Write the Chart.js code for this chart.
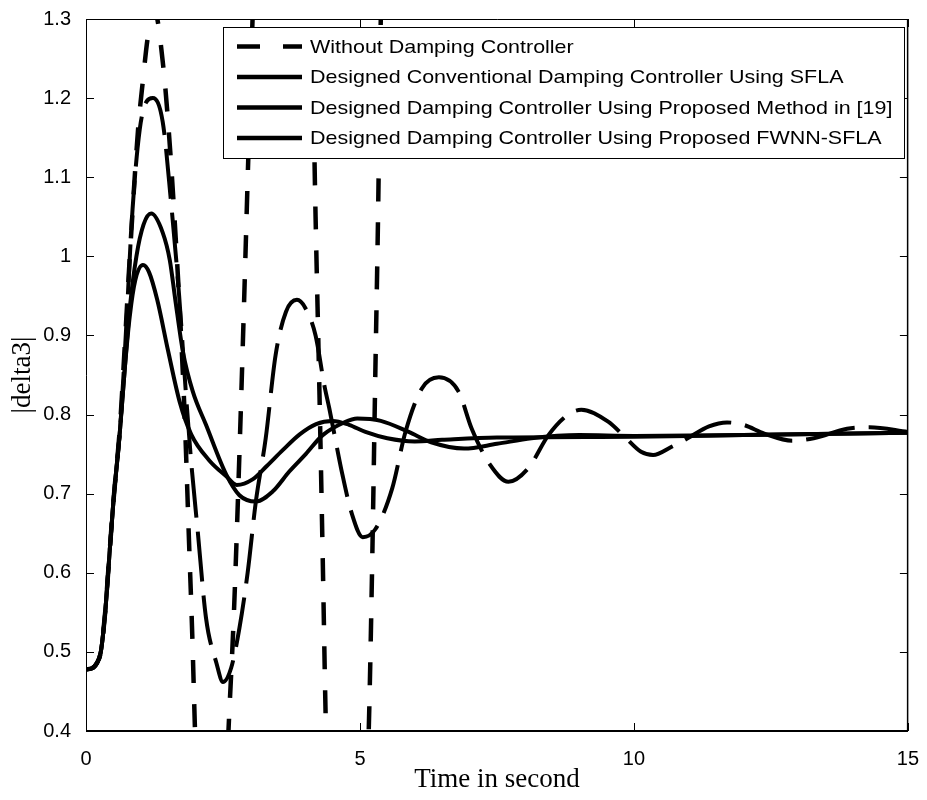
<!DOCTYPE html>
<html>
<head>
<meta charset="utf-8">
<title>|delta3| response</title>
<script src="https://cdn.jsdelivr.net/npm/chart.js@4.4.1/dist/chart.umd.min.js"></script>
<style>
  html, body { margin: 0; padding: 0; background: #fff; }
  #wrap { width: 927px; height: 800px; }
</style>
</head>
<body>
<div id="wrap"><canvas id="chart" width="927" height="800"></canvas></div>
<script>
// axis ticks
const xTicks = [0, 5, 10, 15];
const yTicks = [0.4, 0.5, 0.6, 0.7, 0.8, 0.9, 1.0, 1.1, 1.2, 1.3];

const seriesNames = [
    "Without Damping Controller",
    "Designed Conventional Damping Controller Using SFLA",
    "Designed Damping Controller Using Proposed Method in [19]",
    "Designed Damping Controller Using Proposed FWNN-SFLA"
];

// time (s) / |delta3|
const tWithout = [0, 0.1, 0.2, 0.27, 0.35, 0.41, 0.5, 0.62, 0.71, 0.8, 0.95, 1.04, 1.13, 1.25,
    1.41, 1.53, 1.64, 1.72, 1.8, 1.88, 1.94, 1.99, 2.1, 2.3, 2.45, 2.6, 2.7, 2.8, 2.88, 2.96, 3.04,
    3.2, 3.6, 3.95, 4.12, 4.19, 4.26, 4.32, 4.38, 4.5, 4.77, 5.0, 5.16, 5.22, 5.28, 5.33, 5.38,
    5.5, 5.8, 6.2];
const vWithout = [0.478, 0.479, 0.486, 0.5, 0.55, 0.606, 0.69, 0.785, 0.89, 1.0, 1.16, 1.223, 1.278, 1.31,
    1.24, 1.14, 1.02, 0.92, 0.8, 0.64, 0.52, 0.4, 0.2, 0.05, 0.15, 0.4, 0.55, 0.75, 0.93, 1.12, 1.3,
    1.55, 1.75, 1.55, 1.3, 1.05, 0.83, 0.62, 0.4, 0.15, -0.1, 0.1, 0.4, 0.6, 0.85, 1.05, 1.3,
    1.7, 2.3, 2.6];

const tSfla = [0, 0.1, 0.2, 0.27, 0.35, 0.41, 0.5, 0.62, 0.71, 0.85, 0.98, 1.1, 1.22,
    1.4, 1.55, 1.7, 1.82, 1.92, 2.04, 2.19, 2.38, 2.5, 2.65, 2.8, 2.95, 3.1, 3.28, 3.46, 3.65, 3.85,
    4.0, 4.19, 4.35, 4.44, 4.68, 4.85, 5.05, 5.28, 5.59, 5.83, 6.13, 6.44, 6.8, 7.04, 7.38, 7.71,
    8.07, 8.44, 8.8, 9.04, 9.53, 9.83, 10.13, 10.35, 10.68, 10.98, 11.37, 11.7, 12.0, 12.38, 12.89, 13.28,
    13.89, 14.3, 15];
const vSfla = [0.478, 0.479, 0.486, 0.5, 0.55, 0.606, 0.69, 0.78, 0.88, 1.06, 1.16, 1.195, 1.2,
    1.17, 1.07, 0.95, 0.83, 0.74, 0.652, 0.543, 0.486, 0.462, 0.48, 0.53, 0.6, 0.69, 0.77, 0.875, 0.93, 0.945,
    0.935, 0.9, 0.837, 0.808, 0.724, 0.675, 0.645, 0.655, 0.707, 0.778, 0.833, 0.847, 0.829, 0.782, 0.736, 0.715,
    0.732, 0.774, 0.8, 0.806, 0.791, 0.772, 0.753, 0.749, 0.759, 0.77, 0.785, 0.79, 0.787, 0.776, 0.767, 0.77,
    0.782, 0.784, 0.778];

const tRef19 = [0, 0.1, 0.2, 0.27, 0.35, 0.41, 0.5, 0.62, 0.71, 0.8, 0.92, 1.05, 1.19,
    1.4, 1.53, 1.63, 1.77, 1.95, 2.19, 2.56, 2.8, 3.1, 3.41, 3.71, 4.01, 4.32, 4.71, 4.95, 5.38,
    5.89, 6.3, 6.9, 7.5, 8.13, 9.0, 10.0, 12.0, 15];
const vRef19 = [0.478, 0.479, 0.486, 0.5, 0.55, 0.606, 0.69, 0.78, 0.86, 0.935, 1.0, 1.04, 1.054,
    1.03, 0.995, 0.945, 0.879, 0.829, 0.787, 0.724, 0.698, 0.69, 0.703, 0.728, 0.75, 0.774, 0.79, 0.795, 0.792,
    0.778, 0.765, 0.757, 0.763, 0.77, 0.774, 0.773, 0.774, 0.777];

const tFwnn = [0, 0.1, 0.2, 0.27, 0.35, 0.41, 0.5, 0.62, 0.71, 0.8, 0.9, 1.04, 1.15,
    1.3, 1.5, 1.71, 1.92, 2.25, 2.56, 2.75, 3.04, 3.3, 3.59, 3.9, 4.2, 4.5, 4.8, 5.1, 5.5,
    6.0, 6.5, 7.5, 10.0, 12.0, 15];
const vFwnn = [0.478, 0.479, 0.486, 0.5, 0.55, 0.606, 0.69, 0.78, 0.86, 0.925, 0.97, 0.989, 0.98,
    0.945, 0.88, 0.816, 0.775, 0.742, 0.722, 0.711, 0.718, 0.735, 0.755, 0.775, 0.788, 0.792, 0.787, 0.778, 0.77,
    0.766, 0.768, 0.771, 0.772, 0.774, 0.777];

function pts(ts, vs) {
    return ts.map((t, i) => ({ x: t, y: vs[i] }));
}

const sansFont = '"Liberation Sans", Arial, sans-serif';
const serifFont = '"Liberation Serif", "Times New Roman", serif';

// box round the plot with inward ticks, like matlab
const framePlugin = {
    id: "frame",
    afterDraw(chart) {
        const { ctx, chartArea: a, scales } = chart;
        ctx.save();
        ctx.strokeStyle = "#000";
        ctx.lineWidth = 1;
        ctx.beginPath();
        ctx.moveTo(a.left + 0.5, a.bottom);
        ctx.lineTo(a.left + 0.5, a.top + 0.5);
        ctx.lineTo(a.right, a.top + 0.5);
        ctx.stroke();
        ctx.lineWidth = 1.5;
        ctx.beginPath();
        ctx.moveTo(a.right - 0.25, a.top);
        ctx.lineTo(a.right - 0.25, a.bottom);
        ctx.stroke();
        ctx.lineWidth = 2;
        ctx.beginPath();
        ctx.moveTo(a.left, a.bottom);
        ctx.lineTo(a.right, a.bottom);
        ctx.stroke();

        ctx.lineWidth = 1;
        ctx.beginPath();
        xTicks.forEach(v => {
            const px = Math.round(scales.x.getPixelForValue(v)) + 0.5;
            ctx.moveTo(px, a.bottom);
            ctx.lineTo(px, a.bottom - 8);
            ctx.moveTo(px, a.top);
            ctx.lineTo(px, a.top + 8);
        });
        yTicks.forEach(v => {
            const py = Math.round(scales.y.getPixelForValue(v)) + 0.5;
            ctx.moveTo(a.left, py);
            ctx.lineTo(a.left + 8, py);
            ctx.moveTo(a.right, py);
            ctx.lineTo(a.right - 8, py);
        });
        ctx.stroke();
        ctx.restore();
    }
};

const legendPlugin = {
    id: "boxLegend",
    afterDraw(chart) {
        const ctx = chart.ctx;
        const left = 223, top = 27, right = 904, bottom = 158;
        const rows = [46.5, 77, 107.5, 138];
        ctx.save();
        ctx.fillStyle = "#fff";
        ctx.fillRect(left, top, right - left, bottom - top);
        ctx.strokeStyle = "#000";
        ctx.lineWidth = 1;
        ctx.strokeRect(left + 0.5, top + 0.5, right - left, bottom - top);

        chart.data.datasets.forEach((ds, i) => {
            const y = rows[i];
            ctx.beginPath();
            ctx.lineWidth = 4.5;
            ctx.setLineDash(i === 0 ? [23, 23] : []);
            ctx.moveTo(237, y);
            ctx.lineTo(302, y);
            ctx.stroke();
            ctx.setLineDash([]);

            ctx.save();
            ctx.translate(310, y + 1);
            ctx.scale(1.13, 1);
            ctx.fillStyle = "#000";
            ctx.font = "19px " + sansFont;
            ctx.textBaseline = "middle";
            ctx.fillText(ds.label, 0, 0);
            ctx.restore();
        });
        ctx.restore();
    }
};

const ctx = document.getElementById("chart").getContext("2d");
new Chart(ctx, {
    type: "line",
    data: {
        datasets: [
            {
                label: seriesNames[0],
                data: pts(tWithout, vWithout),
                borderColor: "#000",
                borderWidth: 4.5,
                borderDash: [23, 21]
            },
            {
                label: seriesNames[1],
                data: pts(tSfla, vSfla),
                borderColor: "#000",
                borderWidth: 4,
                borderDash: [50, 14]
            },
            {
                label: seriesNames[2],
                data: pts(tRef19, vRef19),
                borderColor: "#000",
                borderWidth: 4
            },
            {
                label: seriesNames[3],
                data: pts(tFwnn, vFwnn),
                borderColor: "#000",
                borderWidth: 4
            }
        ]
    },
    options: {
        responsive: false,
        animation: false,
        devicePixelRatio: 1,
        layout: { padding: { top: 16, right: 16, left: 0, bottom: 0 } },
        elements: {
            point: { radius: 0 },
            line: { cubicInterpolationMode: "monotone", fill: false }
        },
        plugins: {
            legend: { display: false },
            tooltip: { enabled: false }
        },
        scales: {
            x: {
                type: "linear",
                min: 0,
                max: 15,
                afterBuildTicks: s => { s.ticks = xTicks.map(v => ({ value: v })); },
                afterFit: s => { s.height = 69; },
                grid: { display: false },
                border: { display: false },
                ticks: {
                    font: { family: sansFont, size: 20 },
                    color: "#000",
                    padding: 8,
                    maxRotation: 0,
                    autoSkip: false,
                    callback: v => String(v)
                },
                title: {
                    display: true,
                    text: "Time in second",
                    color: "#000",
                    font: { family: serifFont, size: 27 },
                    padding: { top: 0, bottom: 4 }
                }
            },
            y: {
                type: "linear",
                min: 0.4,
                max: 1.3,
                afterBuildTicks: s => { s.ticks = yTicks.map(v => ({ value: v })); },
                afterFit: s => { s.width = 86; },
                grid: { display: false },
                border: { display: false },
                ticks: {
                    font: { family: sansFont, size: 20 },
                    color: "#000",
                    padding: 7,
                    autoSkip: false,
                    callback: v => String(Math.round(v * 10) / 10)
                },
                title: {
                    display: true,
                    text: "|delta3|",
                    color: "#000",
                    font: { family: serifFont, size: 27 },
                    padding: { top: 7, bottom: 0 }
                }
            }
        }
    },
    plugins: [framePlugin, legendPlugin]
});
</script>
</body>
</html>
